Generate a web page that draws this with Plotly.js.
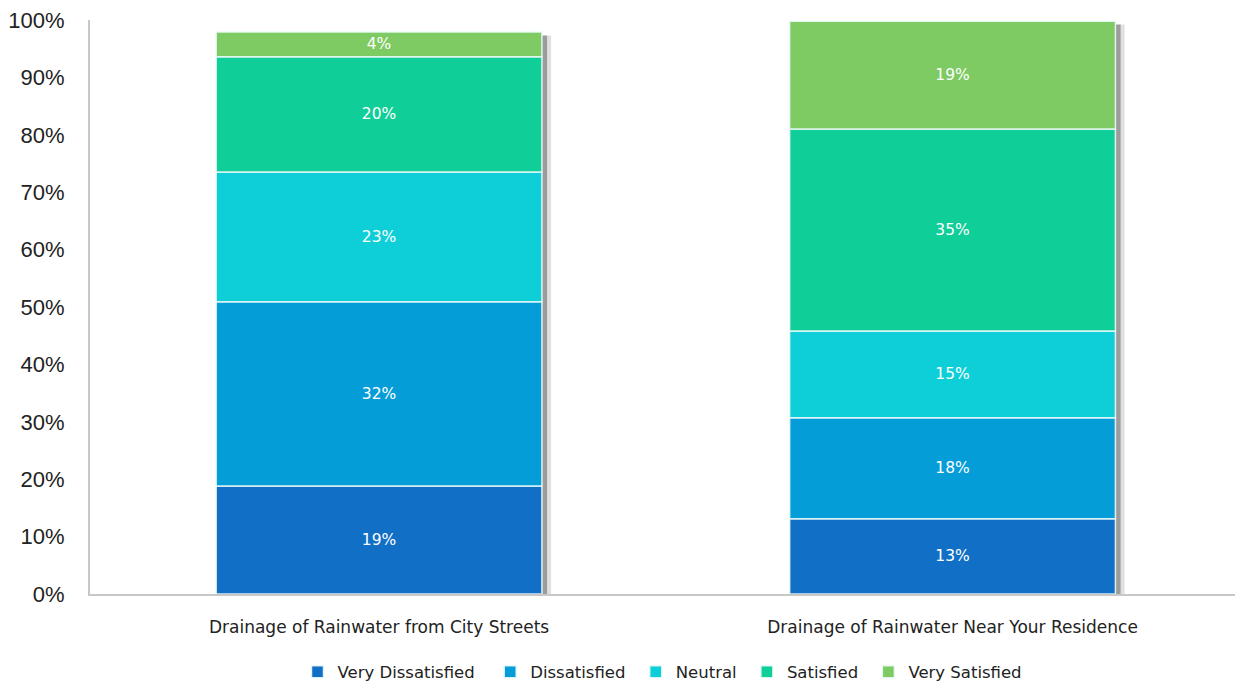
<!DOCTYPE html>
<html>
<head>
<meta charset="utf-8">
<script src="https://cdn.plot.ly/plotly-3.0.1.min.js"></script>
<style>html,body{margin:0;padding:0;background:#fff;}#chart{width:1235px;height:684px;}</style>
</head>
<body>
<div id="chart"></div>
<script>
const categories = ["Drainage of Rainwater from City Streets", "Drainage of Rainwater Near Your Residence"];
const seriesNames = ["Very Dissatisfied", "Dissatisfied", "Neutral", "Satisfied", "Very Satisfied"];
const veryDissatisfied = [18.8, 13.1];
const dissatisfied = [32.1, 17.6];
const neutral = [22.6, 15.1];
const satisfied = [20.1, 35.2];
const verySatisfied = [4.3, 18.8];
const colors = ["#116fc6", "#049dd8", "#0ecfd8", "#10ce98", "#7dcb62"];

const series = [veryDissatisfied, dissatisfied, neutral, satisfied, verySatisfied];
const legendPad = [2, 1, 1, 1, 0];
const barWidth = 0.568;
const fontFam = "'DejaVu Sans', 'Open Sans', sans-serif";

const totals = categories.map((_, i) => series.reduce((s, arr) => s + arr[i], 0));
const traces = [];
// soft shadow behind the bars
[[0.016, 'rgba(0,0,0,0.12)'], [0.009, 'rgba(0,0,0,0.30)']].forEach(([shift, col]) => {
  traces.push({
    type: 'bar', x: categories, y: totals.map(t => t - 0.6), base: 0,
    width: barWidth, offset: -barWidth / 2 + shift,
    marker: {color: col, line: {width: 0}},
    showlegend: false, hoverinfo: 'skip'
  });
});
let cum = categories.map(() => 0);
series.forEach((vals, k) => {
  traces.push({
    type: 'bar', name: seriesNames[k] + '\u00a0'.repeat(legendPad[k]),
    x: categories, y: vals, base: cum.slice(),
    width: barWidth, offset: -barWidth / 2,
    marker: {color: colors[k], line: {color: 'rgba(235,250,250,0.9)', width: 1.5}},
    texttemplate: '%{y:.0f}%', textposition: 'inside', insidetextanchor: 'middle',
    textfont: {color: '#ffffff', size: 15.5, family: fontFam},
    constraintext: 'none', hoverinfo: 'x+y+name'
  });
  cum = cum.map((c, i) => c + vals[i]);
});

const layout = {
  width: 1235, height: 684,
  margin: {l: 90, r: 0, t: 20, b: 90, autoexpand: false},
  paper_bgcolor: '#fff', plot_bgcolor: '#fff',
  barmode: 'overlay',
  xaxis: {
    type: 'category', range: [-0.504, 1.4925],
    showgrid: false, zeroline: false, automargin: false,
    showline: true, linecolor: '#c8c8c8', linewidth: 2,
    ticks: '', ticklabelstandoff: 17,
    tickfont: {size: 17, color: '#222', family: fontFam}
  },
  yaxis: {
    range: [0, 100], dtick: 10, ticksuffix: '%', automargin: false,
    showgrid: false, zeroline: false,
    showline: true, linecolor: '#c8c8c8', linewidth: 2,
    ticks: '', ticklabelstandoff: 19,
    tickfont: {size: 22, color: '#222', family: "'Liberation Sans', Arial, sans-serif"}
  },
  legend: {
    orientation: 'h', x: 0.5, xanchor: 'center', y: -0.136, yanchor: 'middle',
    font: {size: 16.5, color: '#222', family: fontFam},
    traceorder: 'normal', itemwidth: 30
  },
  showlegend: true
};

Plotly.newPlot('chart', traces, layout, {displayModeBar: false, staticPlot: true});
</script>
</body>
</html>
